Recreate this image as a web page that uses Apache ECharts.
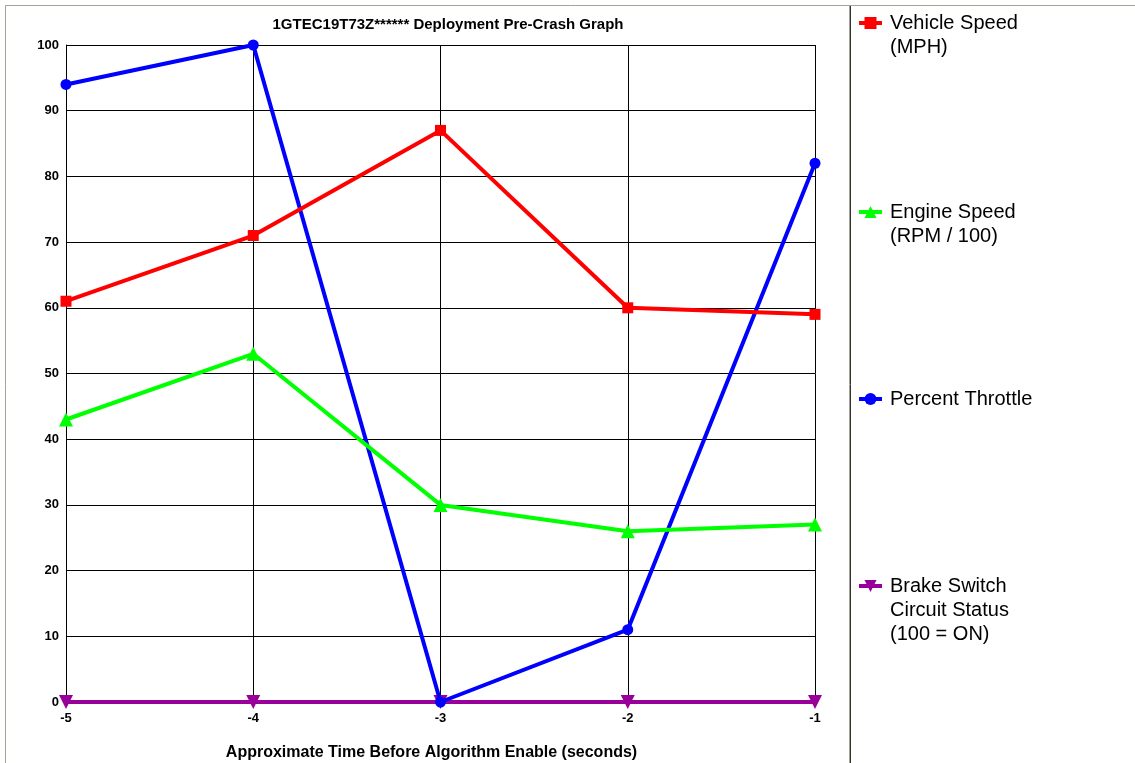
<!DOCTYPE html>
<html>
<head>
<meta charset="utf-8">
<script src="https://cdn.jsdelivr.net/npm/echarts@6/dist/echarts.min.js"></script>
<style>
html,body{margin:0;padding:0;background:#fff;}
#chart{width:1135px;height:763px;}
</style>
</head>
<body>
<div id="chart"></div>
<script>
var times = [-5, -4, -3, -2, -1];
var vehicleSpeed = [61, 71, 87, 60, 59];
var engineSpeed = [43, 53, 30, 26, 27];
var throttle = [94, 100, 0, 11, 82];
var brakeSwitch = [0, 0, 0, 0, 0];
var seriesNames = ['Vehicle Speed', 'Engine Speed', 'Percent Throttle', 'Brake Switch'];
var legendLines = [['Vehicle Speed', '(MPH)'], ['Engine Speed', '(RPM / 100)'], ['Percent Throttle'], ['Brake Switch', 'Circuit Status', '(100 = ON)']];
var titleText = '1GTEC19T73Z****** Deployment Pre-Crash Graph';
var xAxisTitle = 'Approximate Time Before Algorithm Enable (seconds)';

function pairs(vals){ return times.map(function(t,i){ return [t, vals[i]]; }); }

var colors = ['#ff0000', '#00ff00', '#0000ff', '#990099'];
var symbols = ['rect', 'triangle', 'circle', 'triangle'];
var rotates = [0, 0, 0, 180];
var sizes = [11, 14, 11, 14];
var valuesList = [vehicleSpeed, engineSpeed, throttle, brakeSwitch];
var firstLineCenters = [23, 212, 399, 586];
var LH = 24;

var chart = echarts.init(document.getElementById('chart'), null, {renderer:'canvas'});
var font = 'Liberation Sans, Arial, sans-serif';

var series = seriesNames.map(function(n,i){
  return {
    name: n, type: 'line', data: pairs(valuesList[i]),
    symbol: symbols[i], symbolRotate: rotates[i], symbolSize: sizes[i],
    lineStyle: {color: colors[i], width: 4},
    itemStyle: {color: colors[i]},
    animation: false, z: 3 + (3 - i)
  };
});

var legends = seriesNames.map(function(n,i){
  var lines = legendLines[i];
  var blanks = [];
  for (var k = 0; k < lines.length - 1; k++) blanks.push('');
  var txt = blanks.concat(lines).join('\n');
  var top = firstLineCenters[i] - (lines.length - 1) * LH - LH / 2;
  return {
    data: [n], left: 857, top: top, padding: 0, orient: 'vertical',
    itemWidth: 23, itemHeight: 15, itemGap: 0,
    formatter: function(){ return txt; },
    lineStyle: {width: 4},
    textStyle: {fontFamily: font, fontSize: 20, color: '#000', lineHeight: LH, padding: [0,0,0,3]},
    selectedMode: false
  };
});

chart.setOption({
  backgroundColor: '#fff',
  animation: false,
  title: {text: titleText, left: 443, textAlign: 'center', top: 12,
    textStyle: {fontFamily: font, fontSize: 15, fontWeight: 'bold', color: '#000'}},
  legend: legends,
  grid: {left: 66, right: 320, top: 45, bottom: 61, containLabel: false, outerBoundsMode: 'none'},
  xAxis: {
    type: 'value', min: -5, max: -1, interval: 1,
    name: xAxisTitle, nameLocation: 'middle', nameGap: 43,
    nameTextStyle: {fontFamily: font, fontSize: 16, fontWeight: 'bold', color: '#000', padding: [0, 18, 0, 0]},
    axisLine: {show: true, lineStyle: {color: '#000', width: 1}},
    axisTick: {show: false},
    splitLine: {show: true, lineStyle: {color: '#000', width: 1}},
    axisLabel: {fontFamily: font, fontSize: 13, fontWeight: 'bold', color: '#000', margin: 10}
  },
  yAxis: {
    type: 'value', min: 0, max: 100, interval: 10,
    axisLine: {show: true, lineStyle: {color: '#000', width: 1}},
    axisTick: {show: false},
    splitLine: {show: true, lineStyle: {color: '#000', width: 1}},
    axisLabel: {fontFamily: font, fontSize: 13, fontWeight: 'bold', color: '#000', margin: 7}
  },
  graphic: [
    {type:'line', shape:{x1:5.5,y1:5.5,x2:1135,y2:5.5}, style:{stroke:'#a4a294', lineWidth:1}, silent:true},
    {type:'line', shape:{x1:5.5,y1:5.5,x2:5.5,y2:763}, style:{stroke:'#a4a294', lineWidth:1}, silent:true},
    {type:'line', shape:{x1:849.5,y1:5.5,x2:849.5,y2:763}, style:{stroke:'#a4a294', lineWidth:1}, silent:true},
    {type:'line', shape:{x1:850.5,y1:6,x2:850.5,y2:763}, style:{stroke:'#303030', lineWidth:1}, silent:true}
  ],
  series: series
});
</script>
</body>
</html>
